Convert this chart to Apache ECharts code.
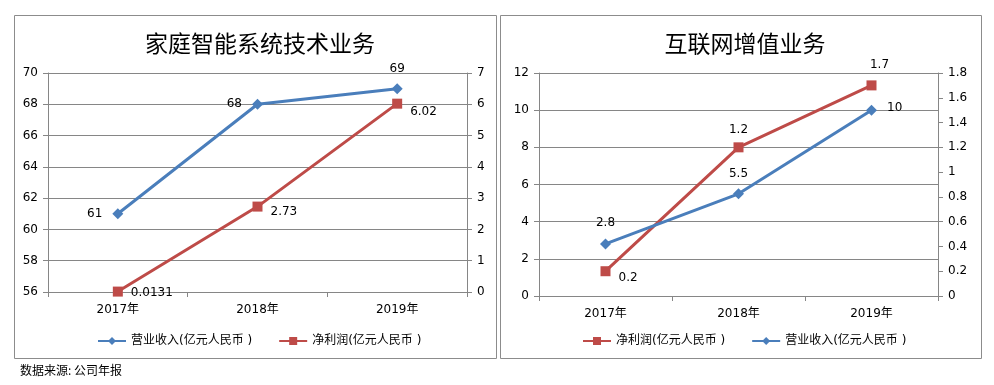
<!DOCTYPE html>
<html><head><meta charset="utf-8">
<script src="https://cdn.jsdelivr.net/npm/echarts@6/dist/echarts.min.js"></script>
<style>html,body{margin:0;padding:0;background:#fff}#c{width:994px;height:385px}</style>
</head><body><div id="c"></div>
<script>
var categories = ['2017年', '2018年', '2019年'];
var homeRevenue = [61, 68, 69];
var homeProfit = [0.0131, 2.73, 6.02];
var netRevenue = [2.8, 5.5, 10];
var netProfit = [0.2, 1.2, 1.7];
var leftTitle = '家庭智能系统技术业务';
var rightTitle = '互联网增值业务';
var revName = '营业收入(亿元人民币 )';
var profName = '净利润(亿元人民币 )';
var source = '数据来源: 公司年报';

var FONT = 'DejaVu Sans, Noto Sans CJK SC, sans-serif';
var BLUE = '#4A7EBB', RED = '#BE4B48', GRID = '#868686';
var chart = echarts.init(document.getElementById('c'));

function xAxis(gi) {
  return {type: 'category', gridIndex: gi, data: categories, boundaryGap: true,
    axisLine: {lineStyle: {color: GRID}}, axisTick: {show: true, length: 5, lineStyle: {color: GRID}},
    axisLabel: {color: '#000', fontSize: 12, fontFamily: FONT, margin: 12}};
}
function yAxis(gi, pos, min, max, interval, split) {
  return {type: 'value', gridIndex: gi, position: pos, min: min, max: max, interval: interval,
    axisLine: {show: true, lineStyle: {color: GRID}}, axisTick: {show: true, length: 5, lineStyle: {color: GRID}},
    splitLine: {show: split, lineStyle: {color: GRID, width: 1}},
    axisLabel: {color: '#000', fontSize: 12, fontFamily: FONT, margin: 10}};
}
function lbl(pos, off) {
  return {show: true, position: pos, offset: off || [0, 0], color: '#000', fontSize: 12, fontFamily: FONT, distance: 6};
}
function pts(vals, labels) {
  return vals.map(function (v, i) { return {value: v, label: labels[i]}; });
}

chart.setOption({
  animation: false,
  title: [
    {text: leftTitle, left: 255, top: 27, textAlign: 'center', textStyle: {fontSize: 23, fontWeight: 'normal', color: '#000', fontFamily: 'Noto Sans CJK SC'}},
    {text: rightTitle, left: 740, top: 27, textAlign: 'center', textStyle: {fontSize: 23, fontWeight: 'normal', color: '#000', fontFamily: 'Noto Sans CJK SC'}}
  ],
  graphic: [
    {type: 'rect', shape: {x: 14.5, y: 15.5, width: 482, height: 343}, style: {fill: 'none', stroke: '#8c8c8c', lineWidth: 1}},
    {type: 'rect', shape: {x: 500.5, y: 15.5, width: 481, height: 343}, style: {fill: 'none', stroke: '#8c8c8c', lineWidth: 1}},
    {type: 'text', left: 20, top: 364, style: {text: source, fontSize: 12, fontFamily: 'Noto Sans CJK SC', fill: '#000'}}
  ],
  legend: [
    {data: [revName, profName], left: 92, top: 330, width: 400, itemWidth: 28, itemHeight: 10, itemGap: 26,
      textStyle: {fontSize: 12, fontFamily: FONT, color: '#000'}},
    {data: [profName, revName], left: 577, top: 330, width: 400, itemWidth: 28, itemHeight: 10, itemGap: 26,
      textStyle: {fontSize: 12, fontFamily: FONT, color: '#000'}}
  ],
  grid: [
    {left: 48, top: 73, width: 419, height: 219},
    {left: 539, top: 73, width: 399, height: 223}
  ],
  xAxis: [xAxis(0), xAxis(1)],
  yAxis: [
    yAxis(0, 'left', 56, 70, 2, true),
    yAxis(0, 'right', 0, 7, 1, false),
    yAxis(1, 'left', 0, 12, 2, true),
    yAxis(1, 'right', 0, 1.8, 0.2, false)
  ],
  series: [
    {name: revName, type: 'line', xAxisIndex: 0, yAxisIndex: 0, symbol: 'diamond', symbolSize: 11,
      lineStyle: {color: BLUE, width: 3}, itemStyle: {color: BLUE},
      data: pts(homeRevenue, [lbl('left', [-4, 0]), lbl('left', [-4, 0]), lbl('top', [0, -2])])},
    {name: profName, type: 'line', xAxisIndex: 0, yAxisIndex: 1, symbol: 'rect', symbolSize: 10,
      lineStyle: {color: RED, width: 3}, itemStyle: {color: RED},
      data: pts(homeProfit, [lbl('right', [2, 1]), lbl('right', [2, 5]), lbl('right', [2, 8])])},
    {name: profName, type: 'line', xAxisIndex: 1, yAxisIndex: 3, symbol: 'rect', symbolSize: 10,
      lineStyle: {color: RED, width: 3}, itemStyle: {color: RED},
      data: pts(netProfit, [lbl('right', [2, 7]), lbl('top', [0, 0]), lbl('top', [8, -4])])},
    {name: revName, type: 'line', xAxisIndex: 1, yAxisIndex: 2, symbol: 'diamond', symbolSize: 11,
      lineStyle: {color: BLUE, width: 3}, itemStyle: {color: BLUE},
      data: pts(netRevenue, [lbl('top', [0, -4]), lbl('top', [0, -2]), lbl('right', [4, -2])])}
  ]
});
</script></body></html>
